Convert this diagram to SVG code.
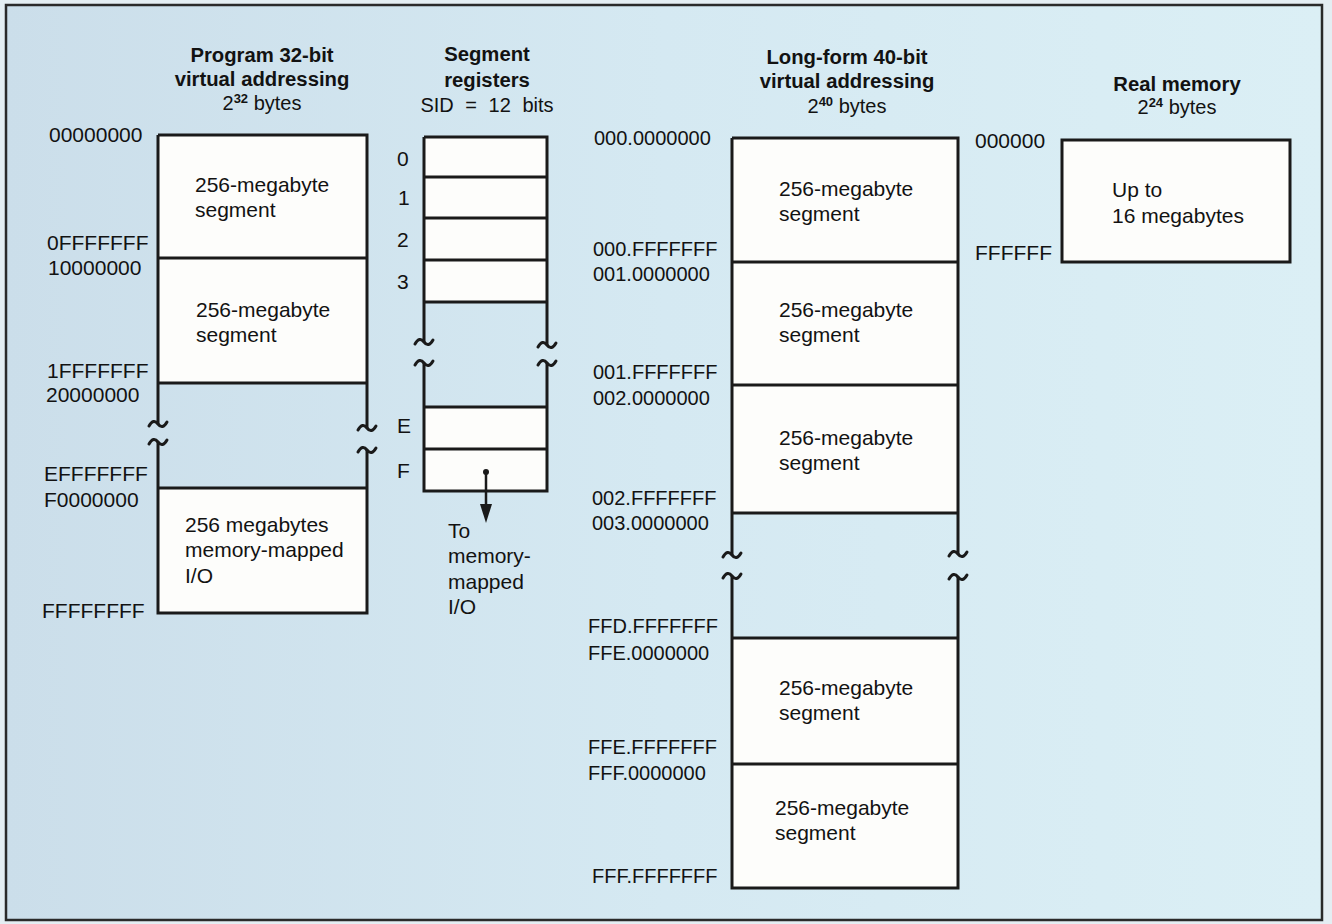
<svg xmlns="http://www.w3.org/2000/svg" xmlns:xlink="http://www.w3.org/1999/xlink" width="1332" height="924" viewBox="0 0 1332 924">
<style>
text{font-family:"Liberation Sans",Arial,sans-serif;font-size:20px;fill:#121212}
.h{font-weight:bold;text-anchor:middle;font-size:20.3px}
.c{text-anchor:middle}
.t{font-size:21px}
.sup{font-size:13px;font-weight:bold}
.box{fill:#fdfdfb;stroke:none}
.ln{stroke:#1a1a1a;stroke-width:3;fill:none}
.br{stroke:#1a1a1a;stroke-width:3;fill:none;stroke-linecap:round}
</style>
<defs>
<linearGradient id="bg" x1="0" y1="0" x2="1" y2="0">
<stop offset="0" stop-color="#cbdeea"/>
<stop offset="0.5" stop-color="#d5e9f2"/>
<stop offset="1" stop-color="#dbeff5"/>
</linearGradient>
<path id="brk" d="M-9,2 Q-4.5,-6 0,0 T9,-2"/>
</defs>
<rect x="0" y="0" width="1332" height="924" fill="#e4eef3"/>
<rect x="6" y="5" width="1316" height="915" fill="url(#bg)" stroke="#2a2a2a" stroke-width="2.5"/>

<g id="program32">
<text class="h" x="262" y="62">Program 32-bit</text>
<text class="h" x="262" y="86">virtual addressing</text>
<text class="c" x="262" y="110">2<tspan class="sup" dy="-7">32</tspan><tspan dy="7"> bytes</tspan></text>
<rect class="box" x="158" y="135" width="209" height="248"/>
<rect class="box" x="158" y="488" width="209" height="125"/>
<path class="ln" d="M158,135 H367 V383 M158,135 V383 M158,258 H367 M158,383 H367 M158,383 V424 M367,383 V428 M158,442 V613 H367 V450 M158,488 H367"/>
<use href="#brk" class="br" x="158" y="424"/>
<use href="#brk" class="br" x="158" y="442"/>
<use href="#brk" class="br" x="367" y="428"/>
<use href="#brk" class="br" x="367" y="450"/>
<text class="t" x="49" y="142">00000000</text>
<text class="t" x="47" y="250">0FFFFFFF</text>
<text class="t" x="48" y="275">10000000</text>
<text class="t" x="47" y="378">1FFFFFFF</text>
<text class="t" x="46" y="402">20000000</text>
<text class="t" x="44" y="481">EFFFFFFF</text>
<text class="t" x="44" y="507">F0000000</text>
<text class="t" x="42" y="618">FFFFFFFF</text>
<text class="t" x="195" y="192">256-megabyte</text>
<text class="t" x="195" y="217">segment</text>
<text class="t" x="196" y="317">256-megabyte</text>
<text class="t" x="196" y="342">segment</text>
<text class="t" x="185" y="532">256 megabytes</text>
<text class="t" x="185" y="557">memory-mapped</text>
<text class="t" x="185" y="583">I/O</text>
</g>

<g id="segment-registers">
<text class="h" x="487" y="61">Segment</text>
<text class="h" x="487" y="87">registers</text>
<text class="c" x="487" y="112" word-spacing="6">SID = 12 bits</text>
<rect class="box" x="424" y="137" width="123" height="165"/>
<rect class="box" x="424" y="407" width="123" height="84"/>
<path class="ln" d="M424,137 H547 V302 M424,137 V302 M424,177 H547 M424,218 H547 M424,260 H547 M424,302 H547 M424,302 V342 M547,302 V345 M424,363 V491 H547 V363 M424,407 H547 M424,449 H547"/>
<use href="#brk" class="br" x="424" y="342"/>
<use href="#brk" class="br" x="424" y="363"/>
<use href="#brk" class="br" x="547" y="345"/>
<use href="#brk" class="br" x="547" y="363"/>
<text class="t" x="397" y="166">0</text>
<text class="t" x="398" y="205">1</text>
<text class="t" x="397" y="247">2</text>
<text class="t" x="397" y="289">3</text>
<text class="t" x="397" y="433">E</text>
<text class="t" x="397" y="478">F</text>
<text class="t" x="448" y="538">To</text>
<text class="t" x="448" y="563">memory-</text>
<text class="t" x="448" y="589">mapped</text>
<text class="t" x="448" y="614">I/O</text>
</g>

<g id="longform40">
<text class="h" x="847" y="64">Long-form 40-bit</text>
<text class="h" x="847" y="88">virtual addressing</text>
<text class="c" x="847" y="113">2<tspan class="sup" dy="-7">40</tspan><tspan dy="7"> bytes</tspan></text>
<rect class="box" x="732" y="138" width="226" height="375"/>
<rect class="box" x="732" y="638" width="226" height="250"/>
<path class="ln" d="M732,138 H958 V513 M732,138 V513 M732,262 H958 M732,385 H958 M732,513 H958 M732,513 V555 M958,513 V554 M732,576 V888 H958 V577 M732,638 H958 M732,764 H958"/>
<use href="#brk" class="br" x="732" y="555"/>
<use href="#brk" class="br" x="732" y="576"/>
<use href="#brk" class="br" x="958" y="554"/>
<use href="#brk" class="br" x="958" y="577"/>
<text x="594" y="145">000.0000000</text>
<text x="593" y="256">000.FFFFFFF</text>
<text x="593" y="281">001.0000000</text>
<text x="593" y="379">001.FFFFFFF</text>
<text x="593" y="405">002.0000000</text>
<text x="592" y="505">002.FFFFFFF</text>
<text x="592" y="530">003.0000000</text>
<text x="588" y="633">FFD.FFFFFFF</text>
<text x="588" y="660">FFE.0000000</text>
<text x="588" y="754">FFE.FFFFFFF</text>
<text x="588" y="780">FFF.0000000</text>
<text x="592" y="883">FFF.FFFFFFF</text>
<text class="t" x="779" y="196">256-megabyte</text>
<text class="t" x="779" y="221">segment</text>
<text class="t" x="779" y="317">256-megabyte</text>
<text class="t" x="779" y="342">segment</text>
<text class="t" x="779" y="445">256-megabyte</text>
<text class="t" x="779" y="470">segment</text>
<text class="t" x="779" y="695">256-megabyte</text>
<text class="t" x="779" y="720">segment</text>
<text class="t" x="775" y="815">256-megabyte</text>
<text class="t" x="775" y="840">segment</text>
</g>

<g id="real-memory">
<text class="h" x="1177" y="91">Real memory</text>
<text class="c" x="1177" y="114">2<tspan class="sup" dy="-7">24</tspan><tspan dy="7"> bytes</tspan></text>
<rect x="1062" y="140" width="228" height="122" fill="#fdfdfb" stroke="#1a1a1a" stroke-width="3"/>
<text class="t" x="975" y="148">000000</text>
<text class="t" x="975" y="260">FFFFFF</text>
<text class="t" x="1112" y="197">Up to</text>
<text class="t" x="1112" y="223">16 megabytes</text>
</g>

<g id="connectors">
<circle cx="486" cy="472" r="3" fill="#1a1a1a"/>
<line x1="486" y1="472" x2="486" y2="506" stroke="#1a1a1a" stroke-width="2.5"/>
<path d="M480,504 L492,504 L486,523 z" fill="#1a1a1a"/>
</g>
</svg>
